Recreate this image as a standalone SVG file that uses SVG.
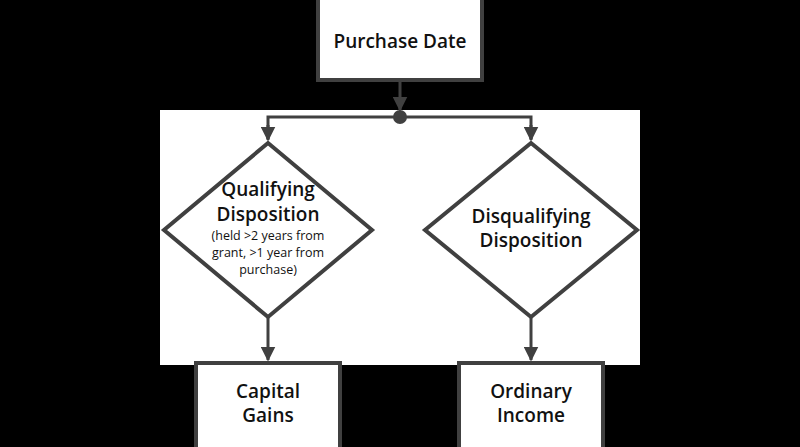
<svg xmlns="http://www.w3.org/2000/svg" width="800" height="447" viewBox="0 0 800 447">
<defs>
<style>
.n{fill:#fff;stroke:#404040;stroke-width:4}
.c{fill:none;stroke:#404040;stroke-width:3}
text{font-family:"Open Sans","Noto Sans",sans-serif;font-weight:600;fill:#111;text-anchor:middle}
.b{font-size:19px}
.s{font-size:12.5px;font-weight:500}
</style>
<marker id="a" viewBox="0 0 10 10" refX="9" refY="5" markerWidth="5" markerHeight="5" orient="auto"><path d="M0,0L10,5L0,10z" fill="#404040"/></marker>
</defs>
<rect width="800" height="447" fill="#000"/>
<rect x="160" y="110" width="480" height="255" fill="#fff"/>
<g id="connectors">
<path class="c" d="M400,80V110" marker-end="url(#a)"/>
<circle cx="400" cy="117" r="7" fill="#404040"/>
<path class="c" d="M268,139V117H531V139" />
<path class="c" d="M268,125V140" marker-end="url(#a)"/>
<path class="c" d="M531,125V140" marker-end="url(#a)"/>
<path class="c" d="M268,318V360" marker-end="url(#a)"/>
<path class="c" d="M531,318V360" marker-end="url(#a)"/>
</g>
<g id="purchase"><rect class="n" x="318" y="-4" width="164" height="84"/><text class="b" x="400" y="48">Purchase Date</text></g>
<g id="qualifying"><polygon class="n" points="268,143 372,230 268,317 164,230"/>
<text class="b" x="268" y="196">Qualifying</text><text class="b" x="268" y="221">Disposition</text>
<text class="s" x="268" y="240">(held &gt;2 years from</text><text class="s" x="268" y="257">grant, &gt;1 year from</text><text class="s" x="268" y="274">purchase)</text></g>
<g id="disqualifying"><polygon class="n" points="531,143 637,230 531,317 425,230"/>
<text class="b" x="531" y="223">Disqualifying</text><text class="b" x="531" y="247">Disposition</text></g>
<g id="capital"><rect class="n" x="196" y="363" width="144" height="90"/><text class="b" x="268" y="398">Capital</text><text class="b" x="268" y="422">Gains</text></g>
<g id="ordinary"><rect class="n" x="459" y="363" width="144" height="90"/><text class="b" x="531" y="398">Ordinary</text><text class="b" x="531" y="422">Income</text></g>
</svg>
